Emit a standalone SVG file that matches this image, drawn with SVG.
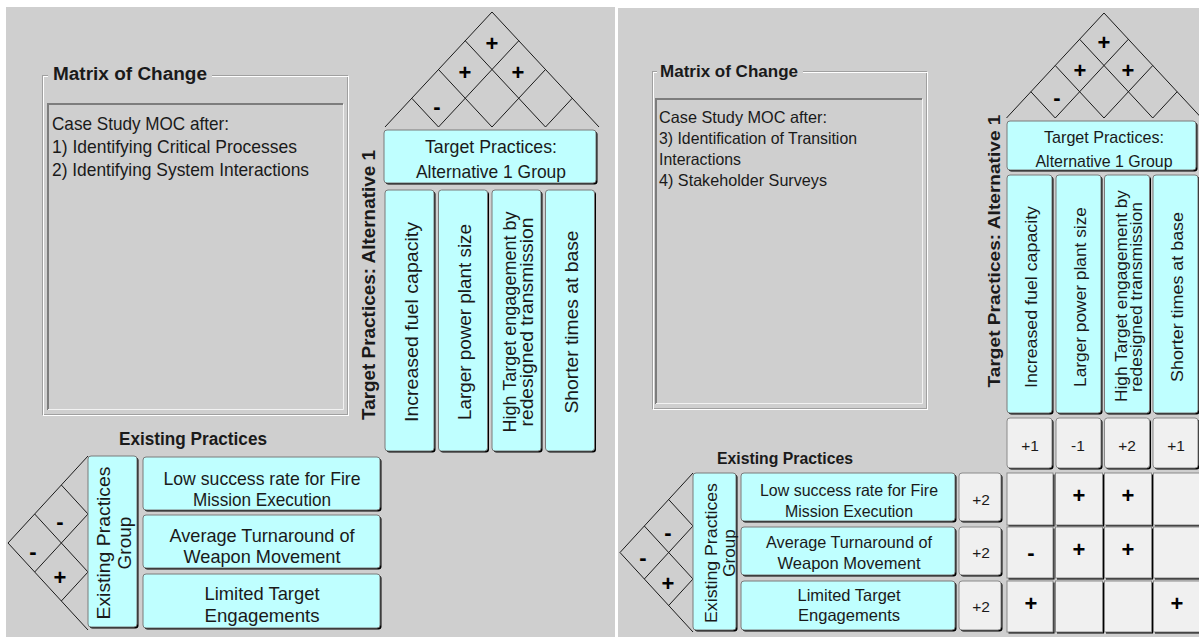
<svg xmlns="http://www.w3.org/2000/svg" width="1199" height="637" viewBox="0 0 1199 637">
<style>
.bg{fill:#cfcfcf}
.sh{fill:#000}
.cy{fill:#bfffff;stroke:#7a7a7a;stroke-width:1}
.gy{fill:#f0f0f0;stroke:#8a8a8a;stroke-width:1}
.t{font-family:"Liberation Sans",Arial,sans-serif;fill:#1a1a1a}
.b{font-weight:bold}
.c{text-anchor:middle}
.ln{stroke:#1a1a1a;stroke-width:1;fill:none}
.sg{font-family:"Liberation Sans",Arial,sans-serif;font-weight:bold;font-size:22px;text-anchor:middle;fill:#000}
.etch1{fill:none;stroke:#a0a0a0;stroke-width:1}
.etch2{fill:none;stroke:#ffffff;stroke-width:1}
.sunkD{fill:none;stroke:#7d7d7d;stroke-width:2}
.sunkL{fill:none;stroke:#f2f2f2;stroke-width:1}
</style>
<rect width="1199" height="637" fill="#ffffff"/>

<!-- ===== left panel ===== -->
<rect class="bg" x="6" y="7" width="609" height="630"/>

<g id="moc-left">
  <rect class="etch1" x="42.5" y="75.5" width="305" height="339"/>
  <rect class="etch2" x="43.5" y="76.5" width="305" height="339"/>
  <rect class="bg" x="48" y="64" width="164" height="20"/>
  <text class="t b" x="53" y="80" font-size="18" textLength="154" lengthAdjust="spacingAndGlyphs">Matrix of Change</text>
  <rect class="bg" x="47" y="103" width="296" height="307"/>
  <path class="sunkD" d="M48,410 V104 H343"/>
  <path class="sunkL" d="M48,409.5 H343.5 V104"/>
  <text class="t" font-size="18.5">
    <tspan x="52" y="130" textLength="177" lengthAdjust="spacingAndGlyphs">Case Study MOC after:</tspan>
    <tspan x="52" y="153" textLength="245" lengthAdjust="spacingAndGlyphs">1) Identifying Critical Processes</tspan>
    <tspan x="52" y="176" textLength="257" lengthAdjust="spacingAndGlyphs">2) Identifying System Interactions</tspan>
  </text>
</g>

<g id="roof-left">
  <path class="ln" d="M385,127 L492,12 L599,127 M438.5,127 L518.75,40.75 M492,127 L545.5,69.5 M545.5,127 L572.25,98.25 M545.5,127 L465.25,40.75 M492,127 L438.5,69.5 M438.5,127 L411.75,98.25"/>
  <text class="sg" x="492" y="51">+</text>
  <text class="sg" x="465" y="80">+</text>
  <text class="sg" x="518" y="80">+</text>
  <text class="sg" x="437" y="114">-</text>
</g>

<g id="target-title-left">
  <text class="t b c" font-size="19" transform="translate(375,285) rotate(-90)" textLength="270" lengthAdjust="spacingAndGlyphs">Target Practices: Alternative 1</text>
</g>

<g id="target-group-left">
  <rect class="sh" x="385.5" y="131.5" width="212" height="53" rx="3"/>
  <rect class="cy" x="384" y="130" width="212" height="53" rx="3"/>
  <text class="t c" font-size="18.5" x="491" y="153" textLength="132" lengthAdjust="spacingAndGlyphs">Target Practices:</text>
  <text class="t c" font-size="18.5" x="491" y="178" textLength="150" lengthAdjust="spacingAndGlyphs">Alternative 1 Group</text>
</g>

<g id="tp1-left">
  <rect class="sh" x="386.5" y="191.5" width="49" height="261" rx="3"/>
  <rect class="cy" x="385" y="190" width="49" height="261" rx="3"/>
  <text class="t c" font-size="19" transform="translate(418,322) rotate(-90)" textLength="200" lengthAdjust="spacingAndGlyphs">Increased fuel capacity</text>
</g>
<g id="tp2-left">
  <rect class="sh" x="440" y="191.5" width="49" height="261" rx="3"/>
  <rect class="cy" x="438.5" y="190" width="49" height="261" rx="3"/>
  <text class="t c" font-size="19" transform="translate(471,322) rotate(-90)" textLength="196" lengthAdjust="spacingAndGlyphs">Larger power plant size</text>
</g>
<g id="tp3-left">
  <rect class="sh" x="493.5" y="191.5" width="49" height="261" rx="3"/>
  <rect class="cy" x="492" y="190" width="49" height="261" rx="3"/>
  <text class="t c" font-size="19" transform="translate(516,322) rotate(-90)" textLength="221" lengthAdjust="spacingAndGlyphs">High Target engagement by</text>
  <text class="t c" font-size="19" transform="translate(533,322) rotate(-90)" textLength="209" lengthAdjust="spacingAndGlyphs">redesigned transmission</text>
</g>
<g id="tp4-left">
  <rect class="sh" x="547" y="191.5" width="49" height="261" rx="3"/>
  <rect class="cy" x="545.5" y="190" width="49" height="261" rx="3"/>
  <text class="t c" font-size="19" transform="translate(578,322) rotate(-90)" textLength="183" lengthAdjust="spacingAndGlyphs">Shorter times at base</text>
</g>

<g id="existing-title-left">
  <text class="t b c" font-size="17.5" x="193" y="445" textLength="148" lengthAdjust="spacingAndGlyphs">Existing Practices</text>
</g>

<g id="wall-left">
  <path class="ln" d="M88,456 L8,543 L88,630 M88,514 L34.67,572 M88,572 L61.33,601 M88,572 L34.67,514 M88,514 L61.33,485"/>
  <text class="sg" x="60" y="529">-</text>
  <text class="sg" x="60" y="585">+</text>
  <text class="sg" x="33" y="559">-</text>
</g>

<g id="existing-group-left">
  <rect class="sh" x="89.5" y="457.5" width="49" height="171" rx="3"/>
  <rect class="cy" x="88" y="456" width="49" height="171" rx="3"/>
  <text class="t c" font-size="19" transform="translate(110,543) rotate(-90)" textLength="153" lengthAdjust="spacingAndGlyphs">Existing Practices</text>
  <text class="t c" font-size="19" transform="translate(131,543) rotate(-90)">Group</text>
</g>

<g id="ep1-left">
  <rect class="sh" x="144.5" y="458.5" width="237" height="53" rx="3"/>
  <rect class="cy" x="143" y="457" width="237" height="53" rx="3"/>
  <text class="t c" font-size="18.5" x="262" y="485" textLength="197" lengthAdjust="spacingAndGlyphs">Low success rate for Fire</text>
  <text class="t c" font-size="18.5" x="262" y="506" textLength="138" lengthAdjust="spacingAndGlyphs">Mission Execution</text>
</g>
<g id="ep2-left">
  <rect class="sh" x="144.5" y="516.5" width="237" height="53" rx="3"/>
  <rect class="cy" x="143" y="515" width="237" height="53" rx="3"/>
  <text class="t c" font-size="18.5" x="262" y="541.5" textLength="185" lengthAdjust="spacingAndGlyphs">Average Turnaround of</text>
  <text class="t c" font-size="18.5" x="262" y="563" textLength="157" lengthAdjust="spacingAndGlyphs">Weapon Movement</text>
</g>
<g id="ep3-left">
  <rect class="sh" x="144.5" y="575.5" width="237" height="54" rx="3"/>
  <rect class="cy" x="143" y="574" width="237" height="54" rx="3"/>
  <text class="t c" font-size="18.5" x="262" y="600" textLength="115" lengthAdjust="spacingAndGlyphs">Limited Target</text>
  <text class="t c" font-size="18.5" x="262" y="621.5" textLength="115" lengthAdjust="spacingAndGlyphs">Engagements</text>
</g>

<!-- ===== right panel ===== -->
<rect class="bg" x="618" y="8" width="581" height="629"/>

<g id="moc-right">
  <rect class="etch1" x="652.5" y="71.5" width="274" height="337"/>
  <rect class="etch2" x="653.5" y="72.5" width="274" height="337"/>
  <rect class="bg" x="657" y="61" width="146" height="20"/>
  <text class="t b" x="660" y="77" font-size="17" textLength="138" lengthAdjust="spacingAndGlyphs">Matrix of Change</text>
  <rect class="bg" x="655" y="98" width="267" height="306"/>
  <path class="sunkD" d="M656,404 V99 H922"/>
  <path class="sunkL" d="M656,403.5 H922.5 V99"/>
  <text class="t" font-size="16.5">
    <tspan x="659" y="123" textLength="168" lengthAdjust="spacingAndGlyphs">Case Study MOC after:</tspan>
    <tspan x="659" y="144" textLength="198" lengthAdjust="spacingAndGlyphs">3) Identification of Transition</tspan>
    <tspan x="659" y="165" textLength="82" lengthAdjust="spacingAndGlyphs">Interactions</tspan>
    <tspan x="659" y="186" textLength="168" lengthAdjust="spacingAndGlyphs">4) Stakeholder Surveys</tspan>
  </text>
</g>

<g id="roof-right">
  <path class="ln" d="M1006.5,118 L1104,13 L1201.5,118 M1055.25,118 L1128.38,39.25 M1104,118 L1152.75,65.5 M1152.75,118 L1177.13,91.75 M1152.75,118 L1079.63,39.25 M1104,118 L1055.25,65.5 M1055.25,118 L1030.88,91.75"/>
  <text class="sg" x="1104" y="50">+</text>
  <text class="sg" x="1080" y="78">+</text>
  <text class="sg" x="1128" y="78">+</text>
  <text class="sg" x="1057" y="105">-</text>
</g>

<g id="target-title-right">
  <text class="t b c" font-size="17" transform="translate(1000,251) rotate(-90)" textLength="273" lengthAdjust="spacingAndGlyphs">Target Practices: Alternative 1</text>
</g>

<g id="target-group-right">
  <rect class="sh" x="1008.5" y="122.5" width="189" height="49" rx="3"/>
  <rect class="cy" x="1007" y="121" width="189" height="49" rx="3"/>
  <text class="t c" font-size="17" x="1104" y="143" textLength="120" lengthAdjust="spacingAndGlyphs">Target Practices:</text>
  <text class="t c" font-size="17" x="1104" y="167" textLength="137" lengthAdjust="spacingAndGlyphs">Alternative 1 Group</text>
</g>

<g id="tp1-right">
  <rect class="sh" x="1008.5" y="176.5" width="45" height="238" rx="3"/>
  <rect class="cy" x="1007" y="175" width="45" height="238" rx="3"/>
  <text class="t c" font-size="17" transform="translate(1037,297) rotate(-90)" textLength="182" lengthAdjust="spacingAndGlyphs">Increased fuel capacity</text>
</g>
<g id="tp2-right">
  <rect class="sh" x="1057.5" y="176.5" width="45" height="238" rx="3"/>
  <rect class="cy" x="1056" y="175" width="45" height="238" rx="3"/>
  <text class="t c" font-size="17" transform="translate(1086,297) rotate(-90)" textLength="180" lengthAdjust="spacingAndGlyphs">Larger power plant size</text>
</g>
<g id="tp3-right">
  <rect class="sh" x="1106" y="176.5" width="45" height="238" rx="3"/>
  <rect class="cy" x="1104.5" y="175" width="45" height="238" rx="3"/>
  <text class="t c" font-size="17" transform="translate(1127,296) rotate(-90)" textLength="212" lengthAdjust="spacingAndGlyphs">High Target engagement by</text>
  <text class="t c" font-size="17" transform="translate(1142,297) rotate(-90)" textLength="190" lengthAdjust="spacingAndGlyphs">redesigned transmission</text>
</g>
<g id="tp4-right">
  <rect class="sh" x="1154.5" y="176.5" width="45" height="238" rx="3"/>
  <rect class="cy" x="1153" y="175" width="45" height="238" rx="3"/>
  <text class="t c" font-size="17" transform="translate(1183,297) rotate(-90)" textLength="170" lengthAdjust="spacingAndGlyphs">Shorter times at base</text>
</g>

<g id="tp-scores-right">
  <rect class="sh" x="1008.5" y="419.5" width="45" height="50" rx="3"/>
  <rect class="gy" x="1007" y="418" width="45" height="50" rx="3"/>
  <rect class="sh" x="1057.5" y="419.5" width="45" height="50" rx="3"/>
  <rect class="gy" x="1056" y="418" width="45" height="50" rx="3"/>
  <rect class="sh" x="1106" y="419.5" width="45" height="50" rx="3"/>
  <rect class="gy" x="1104.5" y="418" width="45" height="50" rx="3"/>
  <rect class="sh" x="1154.5" y="419.5" width="45" height="50" rx="3"/>
  <rect class="gy" x="1153" y="418" width="45" height="50" rx="3"/>
  <text class="t c" font-size="15.5" x="1030" y="450.5">+1</text>
  <text class="t c" font-size="15.5" x="1078" y="450.5">-1</text>
  <text class="t c" font-size="15.5" x="1127" y="450.5">+2</text>
  <text class="t c" font-size="15.5" x="1176" y="450.5">+1</text>
</g>

<g id="existing-title-right">
  <text class="t b c" font-size="16" x="785" y="464" textLength="136" lengthAdjust="spacingAndGlyphs">Existing Practices</text>
</g>

<g id="wall-right">
  <path class="ln" d="M693,473 L620,552.5 L693,632 M693,526 L644.33,579 M693,579 L668.67,605.5 M693,579 L644.33,526 M693,526 L668.67,499.5"/>
  <text class="sg" x="668" y="540">-</text>
  <text class="sg" x="668" y="591">+</text>
  <text class="sg" x="643" y="565">-</text>
</g>

<g id="existing-group-right">
  <rect class="sh" x="694.5" y="474.5" width="43" height="157" rx="3"/>
  <rect class="cy" x="693" y="473" width="43" height="157" rx="3"/>
  <text class="t c" font-size="17" transform="translate(717,553) rotate(-90)" textLength="140" lengthAdjust="spacingAndGlyphs">Existing Practices</text>
  <text class="t c" font-size="17" transform="translate(735,553) rotate(-90)">Group</text>
</g>

<g id="ep1-right">
  <rect class="sh" x="742.5" y="474.5" width="214" height="48" rx="3"/>
  <rect class="cy" x="741" y="473" width="214" height="48" rx="3"/>
  <text class="t c" font-size="16.5" x="849" y="496" textLength="178" lengthAdjust="spacingAndGlyphs">Low success rate for Fire</text>
  <text class="t c" font-size="16.5" x="849" y="517" textLength="128" lengthAdjust="spacingAndGlyphs">Mission Execution</text>
</g>
<g id="ep2-right">
  <rect class="sh" x="742.5" y="528.5" width="214" height="48" rx="3"/>
  <rect class="cy" x="741" y="527" width="214" height="48" rx="3"/>
  <text class="t c" font-size="16.5" x="849" y="548" textLength="166" lengthAdjust="spacingAndGlyphs">Average Turnaround of</text>
  <text class="t c" font-size="16.5" x="849" y="569" textLength="143" lengthAdjust="spacingAndGlyphs">Weapon Movement</text>
</g>
<g id="ep3-right">
  <rect class="sh" x="742.5" y="582.5" width="214" height="49" rx="3"/>
  <rect class="cy" x="741" y="581" width="214" height="49" rx="3"/>
  <text class="t c" font-size="16.5" x="849" y="601" textLength="103" lengthAdjust="spacingAndGlyphs">Limited Target</text>
  <text class="t c" font-size="16.5" x="849" y="621" textLength="102" lengthAdjust="spacingAndGlyphs">Engagements</text>
</g>

<g id="ep-scores-right">
  <rect class="sh" x="960.5" y="474.5" width="42" height="48" rx="3"/>
  <rect class="gy" x="959" y="473" width="42" height="48" rx="3"/>
  <rect class="sh" x="960.5" y="528.5" width="42" height="48" rx="3"/>
  <rect class="gy" x="959" y="527" width="42" height="48" rx="3"/>
  <rect class="sh" x="960.5" y="582.5" width="42" height="49" rx="3"/>
  <rect class="gy" x="959" y="581" width="42" height="49" rx="3"/>
  <text class="t c" font-size="15.5" x="981" y="505">+2</text>
  <text class="t c" font-size="15.5" x="981" y="558">+2</text>
  <text class="t c" font-size="15.5" x="981" y="612">+2</text>
</g>

<g id="matrix-right">
  <rect class="sh" x="1008.5" y="474.5" width="46" height="52"/>
  <rect class="gy" x="1007" y="473" width="46" height="52"/>
  <rect class="sh" x="1057" y="474.5" width="47" height="52"/>
  <rect class="gy" x="1055.5" y="473" width="47" height="52"/>
  <rect class="sh" x="1106" y="474.5" width="47" height="52"/>
  <rect class="gy" x="1104.5" y="473" width="47" height="52"/>
  <rect class="sh" x="1155" y="474.5" width="46" height="52"/>
  <rect class="gy" x="1153.5" y="473" width="46" height="52"/>

  <rect class="sh" x="1008.5" y="528.5" width="46" height="51"/>
  <rect class="gy" x="1007" y="527" width="46" height="51"/>
  <rect class="sh" x="1057" y="528.5" width="47" height="51"/>
  <rect class="gy" x="1055.5" y="527" width="47" height="51"/>
  <rect class="sh" x="1106" y="528.5" width="47" height="51"/>
  <rect class="gy" x="1104.5" y="527" width="47" height="51"/>
  <rect class="sh" x="1155" y="528.5" width="46" height="51"/>
  <rect class="gy" x="1153.5" y="527" width="46" height="51"/>

  <rect class="sh" x="1008.5" y="582.5" width="46" height="51"/>
  <rect class="gy" x="1007" y="581" width="46" height="51"/>
  <rect class="sh" x="1057" y="582.5" width="47" height="51"/>
  <rect class="gy" x="1055.5" y="581" width="47" height="51"/>
  <rect class="sh" x="1106" y="582.5" width="47" height="51"/>
  <rect class="gy" x="1104.5" y="581" width="47" height="51"/>
  <rect class="sh" x="1155" y="582.5" width="46" height="51"/>
  <rect class="gy" x="1153.5" y="581" width="46" height="51"/>

  <text class="sg" font-size="21" x="1079" y="503">+</text>
  <text class="sg" font-size="21" x="1128" y="503">+</text>
  <text class="sg" font-size="21" x="1031" y="560">-</text>
  <text class="sg" font-size="21" x="1079" y="557">+</text>
  <text class="sg" font-size="21" x="1128" y="557">+</text>
  <text class="sg" font-size="21" x="1031" y="611">+</text>
  <text class="sg" font-size="21" x="1177" y="611">+</text>
</g>
</svg>
